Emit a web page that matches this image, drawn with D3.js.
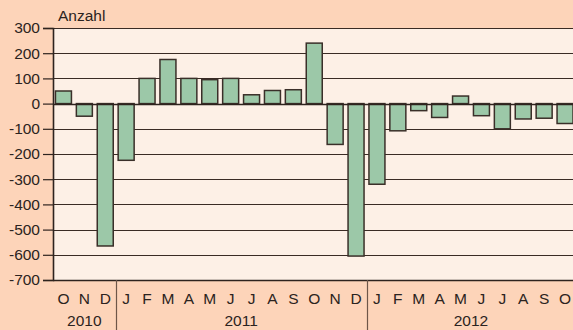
<!DOCTYPE html>
<html>
<head>
<meta charset="utf-8">
<script src="https://cdn.jsdelivr.net/npm/d3@7"></script>
<style>
  html, body { margin: 0; padding: 0; background: #fdd4b9; }
  svg { display: block; }
  text { font-family: "Liberation Sans", Arial, sans-serif; fill: #2b2320; }
</style>
</head>
<body>
<svg id="chart" width="573" height="330"></svg>
<script>
// Monthly change (Anzahl), Oct 2010 – Oct 2012
const months = ["O","N","D","J","F","M","A","M","J","J","A","S","O","N","D","J","F","M","A","M","J","J","A","S","O"];
const years = ["2010","2010","2010",
  "2011","2011","2011","2011","2011","2011","2011","2011","2011","2011","2011","2011",
  "2012","2012","2012","2012","2012","2012","2012","2012","2012","2012"];
const values = [50, -50, -565,
  -225, 100, 175, 100, 95, 100, 35, 52, 55, 240, -162, -605,
  -320, -108, -28, -55, 30, -48, -100, -61, -58, -79];
const yTicks = [300, 200, 100, 0, -100, -200, -300, -400, -500, -600, -700];
const yearLabels = ["2010", "2011", "2012"];

const svg = d3.select("#chart");
const W = 573, H = 330;
const plotLeft = 53, plotTop = 28, plotBottom = 280;
const step = 20.9;
const plotRight = plotLeft + step * months.length;
const fontSize = "15.5px";

svg.append("rect").attr("width", W).attr("height", H).attr("fill", "#fdd4b9");

const x = d3.scaleBand()
  .domain(d3.range(months.length))
  .range([plotLeft, plotRight])
  .paddingInner(0.235)
  .paddingOuter(0.1175);

const y = d3.scaleLinear().domain([-700, 300]).range([plotBottom, plotTop]);

// plot background
svg.append("rect")
  .attr("x", plotLeft).attr("y", plotTop)
  .attr("width", plotRight - plotLeft).attr("height", plotBottom - plotTop)
  .attr("fill", "#fdf0e6");

// gridlines
svg.append("g")
  .selectAll("line")
  .data(yTicks)
  .join("line")
  .attr("x1", plotLeft).attr("x2", plotRight)
  .attr("y1", d => Math.round(y(d)) + 0.5).attr("y2", d => Math.round(y(d)) + 0.5)
  .attr("stroke", "#3a2b24")
  .attr("stroke-width", 1.2);

// bars
svg.append("g")
  .selectAll("rect")
  .data(values)
  .join("rect")
  .attr("x", (d, i) => x(i))
  .attr("width", x.bandwidth())
  .attr("y", d => y(Math.max(0, d)))
  .attr("height", d => Math.abs(y(d) - y(0)))
  .attr("fill", "#9cc8a8")
  .attr("stroke", "#3a2f29")
  .attr("stroke-width", 1.5);

// zero line on top of bars
svg.append("line")
  .attr("x1", plotLeft).attr("x2", plotRight)
  .attr("y1", Math.round(y(0)) + 0.5).attr("y2", Math.round(y(0)) + 0.5)
  .attr("stroke", "#2e231e").attr("stroke-width", 1.6);

// y axis (plain hyphen for negatives)
const yAxis = d3.axisLeft(y).tickValues(yTicks).tickSize(10).tickPadding(3)
  .tickFormat(d => String(d));
const ya = svg.append("g").attr("transform", `translate(${plotLeft},0)`).call(yAxis);
ya.select(".domain").attr("stroke", "#2e231e").attr("stroke-width", 1.6);
ya.selectAll(".tick line").attr("stroke", "#2e231e").attr("stroke-width", 1.2);
ya.selectAll(".tick text")
  .style("font-family", "'Liberation Sans', Arial, sans-serif")
  .style("font-size", fontSize).attr("fill", "#2b2320");

// bottom border of plot
svg.append("line")
  .attr("x1", plotLeft).attr("x2", plotRight)
  .attr("y1", plotBottom + 0.5).attr("y2", plotBottom + 0.5)
  .attr("stroke", "#2e231e").attr("stroke-width", 1.6);

// unit label
svg.append("text")
  .attr("x", 58).attr("y", 21)
  .style("font-size", fontSize)
  .text("Anzahl");

// month labels
svg.append("g")
  .selectAll("text")
  .data(months)
  .join("text")
  .attr("x", (d, i) => x(i) + x.bandwidth() / 2)
  .attr("y", 304)
  .attr("text-anchor", "middle")
  .style("font-size", fontSize)
  .text(d => d);

// year groups: separators and centered labels
const groups = yearLabels.map(yr => {
  const idx = years.map((v, i) => v === yr ? i : -1).filter(i => i >= 0);
  const first = idx[0], last = idx[idx.length - 1];
  const x0 = plotLeft + first * x.step();
  const x1 = plotLeft + (last + 1) * x.step();
  return { yr, x0, x1 };
});

svg.append("g")
  .selectAll("line")
  .data(groups.slice(1))
  .join("line")
  .attr("x1", d => Math.round(d.x0) + 0.5).attr("x2", d => Math.round(d.x0) + 0.5)
  .attr("y1", plotBottom).attr("y2", H)
  .attr("stroke", "#6e5648").attr("stroke-width", 1.2);

svg.append("g")
  .selectAll("text")
  .data(groups)
  .join("text")
  .attr("x", d => (d.x0 + d.x1) / 2)
  .attr("y", 326)
  .attr("text-anchor", "middle")
  .style("font-size", fontSize)
  .text(d => d.yr);
</script>
</body>
</html>
